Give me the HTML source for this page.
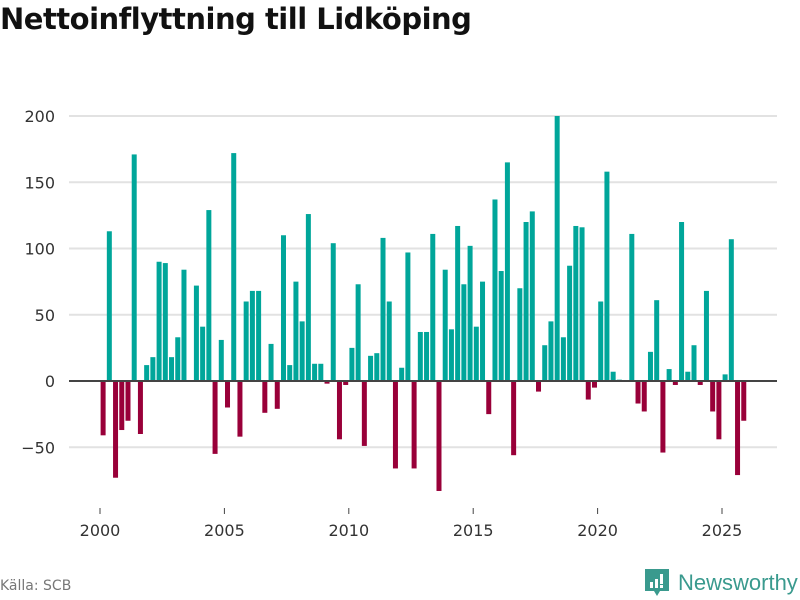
<!DOCTYPE html>
<html><head><meta charset="utf-8">
<style>
body{margin:0;background:#fff;width:800px;height:600px;overflow:hidden;font-family:"DejaVu Sans","Liberation Sans",sans-serif;}
#title{position:absolute;left:0;top:2px;font-family:"DejaVu Sans","Liberation Sans",sans-serif;font-weight:bold;font-size:29px;color:#111;letter-spacing:-0.5px;}
#source{position:absolute;left:0;top:578px;font-size:14px;color:#777;}
#logo{position:absolute;left:645px;top:569px;display:flex;align-items:center;}
#logo span{font-family:"Liberation Sans",sans-serif;font-size:22px;color:#3a9a8e;margin-left:9px;}
</style></head><body>
<div id="title">Nettoinflyttning till Lidköping</div>
<svg id="chart" width="800" height="600" style="position:absolute;left:0;top:0"></svg>
<div id="source">Källa: SCB</div>
<div id="logo">
<svg width="24" height="28" viewBox="0 0 24 28"><path d="M0 0H24V22H15L12 27L9 22H0Z" fill="#3a9a8e"/><rect x="5" y="13" width="3" height="6" fill="#fff"/><rect x="10" y="10" width="3" height="9" fill="#fff"/><rect x="15" y="5" width="3" height="10" fill="#fff"/><rect x="15" y="16" width="3" height="3" fill="#fff"/></svg>
<span>Newsworthy</span></div>
<script>
const startYear = 2000;
const values = [-41,113,-73,-37,-30,171,-40,12,18,90,89,18,33,84,0,72,41,129,-55,31,-20,172,-42,60,68,68,-24,28,-21,110,12,75,45,126,13,13,-2,104,-44,-3,25,73,-49,19,21,108,60,-66,10,97,-66,37,37,111,-83,84,39,117,73,102,41,75,-25,137,83,165,-56,70,120,128,-8,27,45,200,33,87,117,116,-14,-5,60,158,7,1,0,111,-17,-23,22,61,-54,9,-3,120,7,27,-3,68,-23,-44,5,107,-71,-30];
const yTicks = [-50,0,50,100,150,200];
const xTicks = [2000,2005,2010,2015,2020,2025];
const NS="http://www.w3.org/2000/svg";
const svg=document.getElementById('chart');
const y=v=>381-v*1.325;
const x=t=>100+(t-2000)*24.88;
function mk(tag,attrs){const e=document.createElementNS(NS,tag);for(const k in attrs)e.setAttribute(k,attrs[k]);svg.appendChild(e);return e;}
yTicks.forEach(t=>{
  if(t!==0){const g=mk('line',{x1:69,x2:777,y1:y(t),y2:y(t),stroke:'#e2e2e2','stroke-width':2});
  
  }
  const l=mk('text',{x:55,y:y(t)+6,'text-anchor':'end','font-size':16,fill:'#333','font-family':'DejaVu Sans, sans-serif'});
  l.textContent=t===-50?'\u221250':t;
  
  
});
values.forEach((v,i)=>{
  const cx=x(startYear+(i+0.5)/4);
  const r=mk('rect',{x:cx-2.5,width:5,y:Math.min(y(v),381),height:Math.abs(y(v)-381),fill:v>=0?'#00a69a':'#990039'});
  
  
});
const z=mk('line',{x1:69,x2:777,y1:381,y2:381,stroke:'#444','stroke-width':2});


xTicks.forEach(t=>{
  const tk=mk('line',{x1:x(t),x2:x(t),y1:508,y2:514,stroke:'#444','stroke-width':1});
  
  
  const l=mk('text',{x:x(t),y:536,'text-anchor':'middle','font-size':16,fill:'#333','font-family':'DejaVu Sans, sans-serif'});
  l.textContent=t;
  
  
});
</script>
</body></html>
